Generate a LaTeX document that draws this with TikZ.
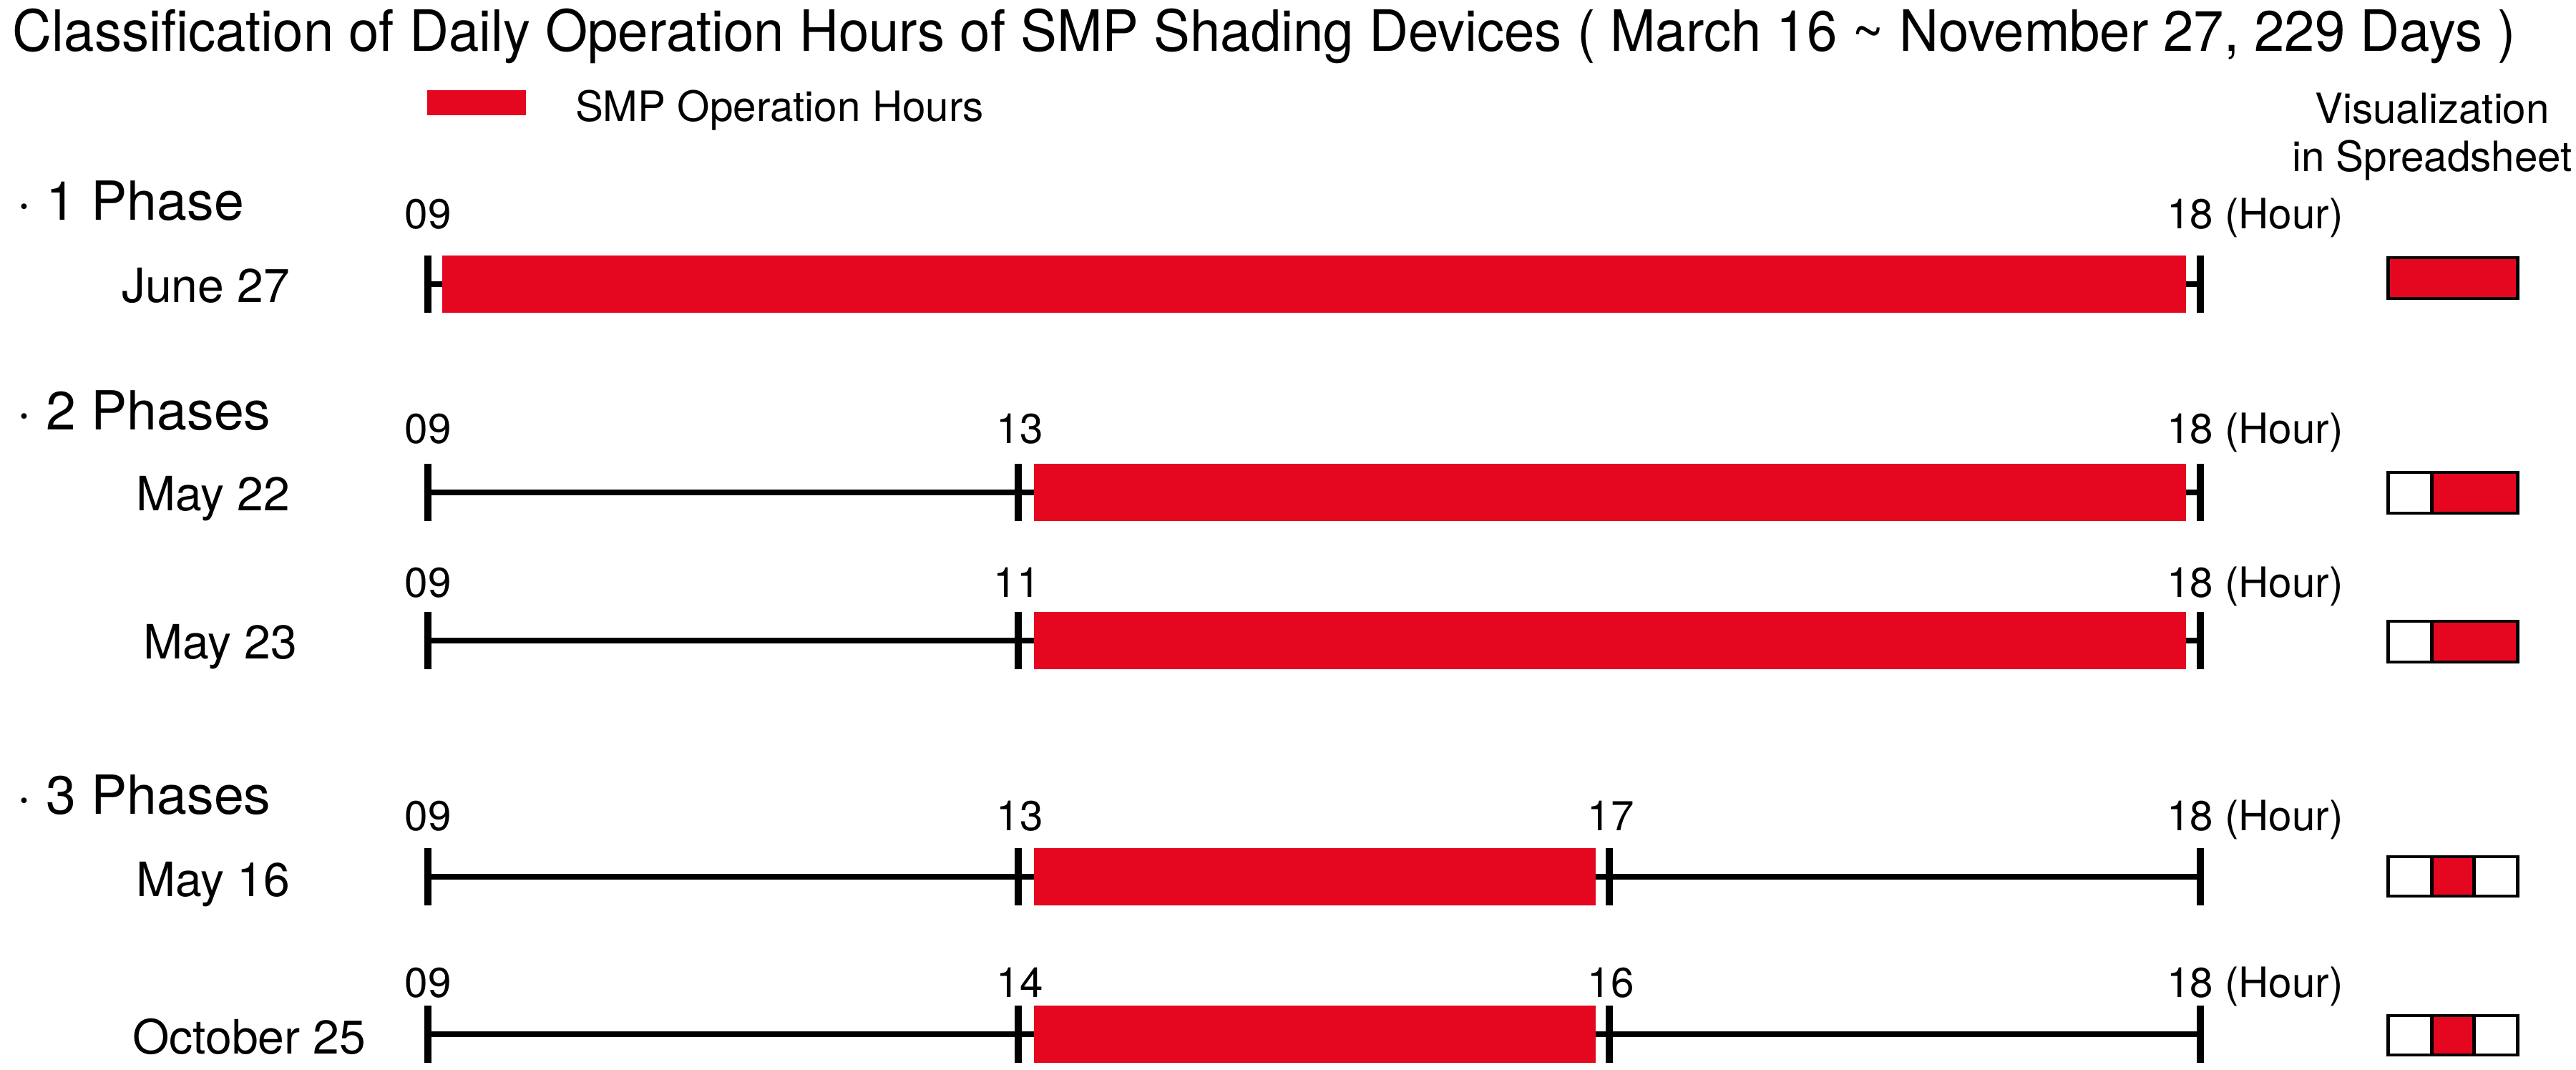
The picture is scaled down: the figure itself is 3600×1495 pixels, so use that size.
\documentclass[tikz,border=0pt]{standalone}
\usepackage{fontspec}
\setmainfont{TeX Gyre Heros}
\newfontfamily\titlefont{TeX Gyre Heros}[FakeStretch=0.958]
\definecolor{smpred}{RGB}{228,7,31}
\begin{document}
\begin{tikzpicture}[x=0.01cm,y=-0.01cm,
  txt/.style={inner sep=0pt,outer sep=0pt},
  titlef/.style={txt,anchor=base west,font=\titlefont\fontsize{22.6pt}{27pt}\selectfont},
  phasef/.style={txt,anchor=base west,font=\fontsize{21.4pt}{26pt}\selectfont},
  datef/.style={txt,anchor=base west,font=\fontsize{18.8pt}{23pt}\selectfont},
  num/.style={txt,anchor=base,font=\fontsize{16.6pt}{20pt}\selectfont},
  hourf/.style={txt,anchor=base west,font=\fontsize{16.6pt}{20pt}\selectfont},
  tline/.style={line width=2.3pt,black},
  tick/.style={line width=2.8pt,black},
  visbox/.style={draw=black,line width=1.4pt},
]
\useasboundingbox (0,0) rectangle (3600,1495);

% title and legend
\node[titlef] (title) at (18,72) {Classification of Daily Operation Hours of SMP Shading Devices ( March 16 \textasciitilde{} November 27, 229 Days )};
\fill[smpred] (597,126) rectangle (735,161);
\node[hourf] (legend) at (804,170) {SMP Operation Hours};
\node[txt,align=center,anchor=base,font=\fontsize{16.6pt}{19.3pt}\selectfont] (vis) at (3399,240) {Visualization\\in Spreadsheet};

% phase headings
\node[phasef] (p1) at (23,308) {· 1 Phase};
\node[phasef] (p2) at (23,601) {· 2 Phases};
\node[phasef] (p3) at (23,1137) {· 3 Phases};

% ---------- Row 1 : June 27
\node[datef] (d1) at (170,423) {June 27};
\coordinate (r1s) at (598,397); \coordinate (r1e) at (3075,397);
\draw[tline] (r1s) -- (r1e);
\fill[smpred] (618,357) rectangle (3055,437);
\draw[tick] (598,357) -- (598,437);
\draw[tick] (3075,357) -- (3075,437);
\node[num] (r1n1) at (598,320) {09};
\node[hourf] (r1n2) at (3028,320) {18 (Hour)};
\draw[visbox,fill=smpred] (3337,360) rectangle (3518,417);

% ---------- Row 2 : May 22
\node[datef] (d2) at (190,714) {May 22};
\coordinate (r2s) at (598,688); \coordinate (r2e) at (3075,688);
\draw[tline] (r2s) -- (r2e);
\fill[smpred] (1445,648) rectangle (3055,728);
\draw[tick] (598,648) -- (598,728);
\draw[tick] (1423,648) -- (1423,728);
\draw[tick] (3075,648) -- (3075,728);
\node[num] (r2n1) at (598,620) {09};
\node[num] (r2n2) at (1425,620) {13};
\node[hourf] (r2n3) at (3028,620) {18 (Hour)};
\fill[smpred] (3398,660) rectangle (3518,717);
\draw[visbox] (3337,660) rectangle (3518,717);
\draw[visbox] (3398,660) -- (3398,717);

% ---------- Row 3 : May 23
\node[datef] (d3) at (200,921) {May 23};
\coordinate (r3s) at (598,895); \coordinate (r3e) at (3075,895);
\draw[tline] (r3s) -- (r3e);
\fill[smpred] (1445,855) rectangle (3055,935);
\draw[tick] (598,855) -- (598,935);
\draw[tick] (1423,855) -- (1423,935);
\draw[tick] (3075,855) -- (3075,935);
\node[num] (r3n1) at (598,835) {09};
\node[num] (r3n2) at (1421,835) {11};
\node[hourf] (r3n3) at (3028,835) {18 (Hour)};
\fill[smpred] (3398,868) rectangle (3518,925);
\draw[visbox] (3337,868) rectangle (3518,925);
\draw[visbox] (3398,868) -- (3398,925);

% ---------- Row 4 : May 16
\node[datef] (d4) at (190,1252) {May 16};
\coordinate (r4s) at (598,1225); \coordinate (r4e) at (3075,1225);
\draw[tline] (r4s) -- (r4e);
\fill[smpred] (1445,1185) rectangle (2230,1265);
\draw[tick] (598,1185) -- (598,1265);
\draw[tick] (1423,1185) -- (1423,1265);
\draw[tick] (2249,1185) -- (2249,1265);
\draw[tick] (3075,1185) -- (3075,1265);
\node[num] (r4n1) at (598,1160) {09};
\node[num] (r4n2) at (1425,1160) {13};
\node[num] (r4n3) at (2251,1160) {17};
\node[hourf] (r4n4) at (3028,1160) {18 (Hour)};
\fill[smpred] (3398,1197) rectangle (3457,1252);
\draw[visbox] (3337,1197) rectangle (3518,1252);
\draw[visbox] (3398,1197) -- (3398,1252);
\draw[visbox] (3457,1197) -- (3457,1252);

% ---------- Row 5 : October 25
\node[datef] (d5) at (185,1472) {October 25};
\coordinate (r5s) at (598,1445); \coordinate (r5e) at (3075,1445);
\draw[tline] (r5s) -- (r5e);
\fill[smpred] (1445,1405) rectangle (2230,1485);
\draw[tick] (598,1405) -- (598,1485);
\draw[tick] (1423,1405) -- (1423,1485);
\draw[tick] (2249,1405) -- (2249,1485);
\draw[tick] (3075,1405) -- (3075,1485);
\node[num] (r5n1) at (598,1393) {09};
\node[num] (r5n2) at (1425,1393) {14};
\node[num] (r5n3) at (2251,1393) {16};
\node[hourf] (r5n4) at (3028,1393) {18 (Hour)};
\fill[smpred] (3398,1419) rectangle (3457,1474);
\draw[visbox] (3337,1419) rectangle (3518,1474);
\draw[visbox] (3398,1419) -- (3398,1474);
\draw[visbox] (3457,1419) -- (3457,1474);
\end{tikzpicture}
\end{document}
